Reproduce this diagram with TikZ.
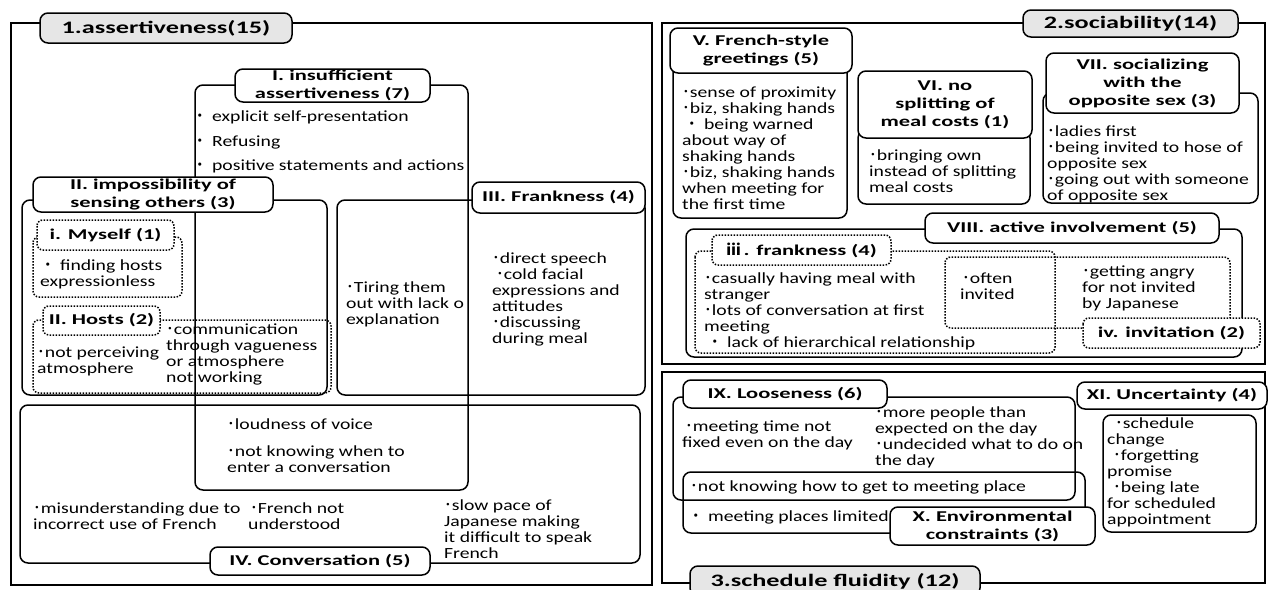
\documentclass[tikz,border=0pt]{standalone}
\usepackage{fontspec}
\setmainfont[FakeStretch=1.27]{Carlito}
\newfontfamily\titleFont[FakeStretch=1.5]{Carlito}
\newfontfamily\cjk{Noto Sans CJK JP}
\definecolor{panelGray}{RGB}{230,230,230}
\tikzstyle{pixelGrid} = [x=1pt, y=-1pt]
\tikzstyle{frameLine} = [line width=1.6pt]
\tikzstyle{groupStyle} = [line width=1.5pt, rounded corners=8pt]
\tikzstyle{dotStyle} = [line width=1.5pt, dash pattern=on 1.5pt off 1.5pt, rounded corners=6pt]
\tikzstyle{titleStyle} = [groupStyle, fill=white]
\tikzstyle{panelTitleStyle} = [groupStyle, fill=panelGray]
\tikzstyle{dotTitleStyle} = [dotStyle, fill=white]
\tikzstyle{titleText} = [midway, align=center, inner sep=0pt, font=\titleFont\bfseries\fontsize{15}{18}\selectfont]
\tikzstyle{panelText} = [midway, inner sep=0pt, font=\titleFont\bfseries\fontsize{17.5}{20}\selectfont]
\tikzstyle{itemText} = [anchor=west, align=left, inner sep=0pt, font=\fontsize{15.5}{16}\selectfont]
\newcommand{\bul}{{\cjk ･}}
\newcommand{\wbul}{{\cjk ・}\ }
\newcommand{\frameBox}[4]{\draw [frameLine] (#1,#2) rectangle (#3,#4);}
\newcommand{\groupBox}[4]{\draw [groupStyle] (#1,#2) rectangle (#3,#4);}
\newcommand{\dotBox}[4]{\draw [dotStyle] (#1,#2) rectangle (#3,#4);}
\newcommand{\titleBox}[6]{\filldraw [titleStyle] (#1,#2) rectangle (#3,#4) node [titleText] (#5) {#6};}
\newcommand{\dotTitleBox}[6]{\filldraw [dotTitleStyle] (#1,#2) rectangle (#3,#4) node [titleText] (#5) {#6};}
\newcommand{\panelTitle}[6]{\filldraw [panelTitleStyle] (#1,#2) rectangle (#3,#4) node [panelText] (#5) {#6};}
\newcommand{\itemAt}[4]{\node [itemText] (#1) at (#2,#3) {#4};}
\begin{document}
\begin{tikzpicture}[pixelGrid]
            \useasboundingbox (0,0) rectangle (1269,589);
            \frameBox{11}{23}{652}{585}
            \frameBox{662}{23}{1265}{364}
            \frameBox{662}{372}{1265}{583}
            \panelTitle{40}{13}{292}{43}{assertTitle}{1.assertiveness(15)}
            \panelTitle{1023}{10}{1238}{37}{socialTitle}{2.sociability(14)}
            \panelTitle{690}{566}{980}{596}{scheduleTitle}{3.schedule fluidity (12)}

            \groupBox{195}{85}{468}{490}
            \groupBox{22}{200}{327}{395}
            \groupBox{337}{200}{645}{395}
            \groupBox{20}{405}{640}{563}
            \dotBox{33}{237}{182}{297}
            \dotBox{33}{320}{331}{393}
            \titleBox{235}{69}{430}{102}{insuffTitle}{I. insufficient\\assertiveness (7)}
            \titleBox{33}{177}{273}{212}{sensingTitle}{II. impossibility of\\sensing others (3)}
            \titleBox{472}{182}{645}{213}{franknessTitle}{III. Frankness (4)}
            \titleBox{210}{547}{430}{575}{conversationTitle}{IV. Conversation (5)}
            \dotTitleBox{37}{220}{174}{250}{myselfTitle}{i. Myself (1)}
            \dotTitleBox{43}{306}{160}{335}{hostsTitle}{II. Hosts (2)}
            \itemAt{explicitItem}{192}{117}{\wbul explicit self-presentation}
            \itemAt{refusingItem}{192}{142}{\wbul Refusing}
            \itemAt{positiveItem}{192}{166}{\wbul positive statements and actions}
            \itemAt{expressionItem}{40}{274}{\wbul finding hosts\\expressionless}
            \itemAt{atmosphereItem}{37}{361}{\bul not perceiving\\atmosphere}
            \itemAt{vaguenessItem}{166}{354}{\bul communication\\through vagueness\\or atmosphere\\not working}
            \itemAt{tiringItem}{346}{304}{\bul Tiring them\\out with lack o\\explanation}
            \itemAt{directItem}{492}{299}{\bul direct speech\\\hspace*{4pt}\bul cold facial\\expressions and\\attitudes\\\bul discussing\\during meal}
            \itemAt{loudnessItem}{227}{424}{\bul loudness of voice}
            \itemAt{entryItem}{227}{459}{\bul not knowing when to\\enter a conversation}
            \itemAt{misunderstandItem}{33}{516}{\bul misunderstanding due to\\incorrect use of French}
            \itemAt{understoodItem}{248}{516}{\hspace*{2pt}\bul French not\\understood}
            \itemAt{slowPaceItem}{444}{529}{\bul slow pace of\\Japanese making\\it difficult to speak\\French}

            \groupBox{673}{65}{847}{218}
            \groupBox{858}{130}{1030}{204}
            \groupBox{1043}{93}{1258}{203}
            \groupBox{686}{229}{1242}{357}
            \dotBox{695}{251}{1055}{353}
            \dotBox{945}{257}{1230}{328}
            \titleBox{670}{28}{852}{73}{greetingTitle}{V. French-style\\greetings (5)}
            \titleBox{858}{71}{1032}{138}{splittingTitle}{VI. no\\splitting of\\meal costs (1)}
            \titleBox{1046}{53}{1239}{113}{oppositeTitle}{VII. socializing\\with the\\opposite sex (3)}
            \titleBox{925}{213}{1219}{243}{involvementTitle}{VIII. active involvement (5)}
            \dotTitleBox{712}{235}{891}{265}{frankSubTitle}{{\cjk ⅲ}\,. frankness (4)}
            \dotTitleBox{1083}{318}{1260}{348}{invitationTitle}{iv. invitation (2)}
            \itemAt{greetingItems}{682}{148}{\bul sense of proximity\\\bul biz, shaking hands\\\hspace*{2pt}\wbul being warned\\about way of\\shaking hands\\\bul biz, shaking hands\\when meeting for\\the first time}
            \itemAt{ownItem}{869}{171}{\bul bringing own\\instead of splitting\\meal costs}
            \itemAt{ladiesItem}{1047}{164}{\bul ladies first\\\bul being invited to hose of\\opposite sex\\\bul going out with someone\\of opposite sex}
            \itemAt{strangerItem}{704}{303}{\bul casually having meal with\\stranger\\\bul lots of conversation at first\\meeting}
            \itemAt{hierarchyItem}{704}{343}{\hspace*{3pt}\wbul lack of hierarchical relationship}
            \itemAt{oftenItem}{960}{286.5}{\hspace*{2pt}\bul often\\invited}
            \itemAt{angryItem}{1082}{288.5}{\bul getting angry\\for not invited\\by Japanese}

            \groupBox{673}{397}{1075}{500}
            \groupBox{683}{472}{1085}{533}
            \groupBox{1103}{415}{1256}{532}
            \titleBox{683}{380}{887}{408}{loosenessTitle}{IX. Looseness (6)}
            \titleBox{890}{507}{1095}{545}{constraintTitle}{X. Environmental\\constraints (3)}
            \titleBox{1077}{382}{1267}{409}{uncertaintyTitle}{XI. Uncertainty (4)}
            \itemAt{meetingTimeItem}{682}{435}{\hspace*{3pt}\bul meeting time not\\fixed even on the day}
            \itemAt{morePeopleItem}{875}{437}{\bul more people than\\expected on the day\\\bul undecided what to do on\\the day}
            \itemAt{routeItem}{690}{487}{\bul not knowing how to get to meeting place}
            \itemAt{placesItem}{688}{517}{\wbul meeting places limited}
            \itemAt{scheduleItem}{1107}{472}{\hspace*{8pt}\bul schedule\\change\\\hspace*{6pt}\bul forgetting\\promise\\\hspace*{6pt}\bul being late\\for scheduled\\appointment}
          \end{tikzpicture}
\end{document}
